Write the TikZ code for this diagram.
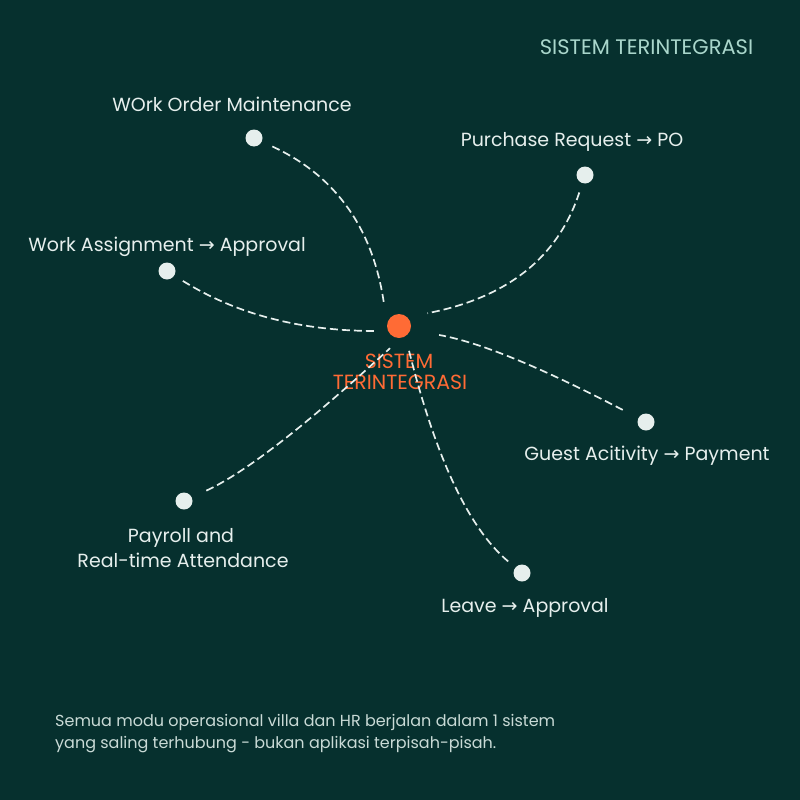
\documentclass[tikz,border=0pt]{standalone}
\usepackage{fontspec}
\setmainfont{Poppins}
\newfontfamily\arrfont{DejaVu Sans}
\newcommand{\rarr}{{\arrfont →}}
\definecolor{bg}{HTML}{06302E}
\definecolor{lbl}{HTML}{E6EFED}
\definecolor{ttl}{HTML}{A9D6CB}
\definecolor{org}{HTML}{FF6B35}
\definecolor{foot}{HTML}{C9DAD6}
\tikzset{
  dotnode/.style={circle,fill=lbl,inner sep=0pt,minimum size=17pt},
  hubnode/.style={circle,fill=org,inner sep=0pt,minimum size=24pt},
  lab/.style={text=lbl,font=\fontsize{19}{22}\selectfont,anchor=base,inner sep=0pt},
  hublab/.style={text=org,font=\fontsize{20.5}{24}\selectfont,anchor=base,inner sep=0pt},
  link/.style={draw=lbl,line width=1.7pt,dash pattern=on 8pt off 4pt},
}
\begin{document}
\begin{tikzpicture}[x=1pt,y=-1pt]
\fill[bg] (0,0) rectangle (800,800);
\useasboundingbox (0,0) rectangle (800,800);

\node[text=ttl,font=\fontsize{21}{24}\selectfont,anchor=base,inner sep=0pt] (title) at (646.5,55) {SISTEM TERINTEGRASI};

\node[hublab] (hl1) at (399,368) {SISTEM};
\node[hublab] (hl2) at (400,389) {TERINTEGRASI};

\node[hubnode] (hub) at (399,326) {};
\node[dotnode] (wo) at (254,138) {};
\node[dotnode] (pr) at (585,175) {};
\node[dotnode] (wa) at (167,271) {};
\node[dotnode] (ga) at (646,422) {};
\node[dotnode] (py) at (184,501) {};
\node[dotnode] (lv) at (522,573) {};

\node[lab] (wol) at (232,111) {WOrk Order Maintenance};
\node[lab] (prl) at (572,146) {Purchase Request \rarr{} PO};
\node[lab] (wal) at (167,251) {Work Assignment \rarr{} Approval};
\node[lab] (gal) at (647,460) {Guest Acitivity \rarr{} Payment};
\node[lab] (pyl1) at (181,542) {Payroll and};
\node[lab] (pyl2) at (183,567) {Real-time Attendance};
\node[lab] (lvl) at (525,612) {Leave \rarr{} Approval};

\draw[link,shorten <=11.5pt,shorten >=22pt] (wo) .. controls (336,175.9) and (372.7,228.5) .. (hub.170);
\draw[link,shorten <=9.7pt,shorten >=20.5pt] (pr) .. controls (558,257.7) and (506.8,297.9) .. (hub.47);
\draw[link,shorten <=10pt,shorten >=13pt] (wa) .. controls (238,315.3) and (303.2,331) .. (hub.204);
\draw[link,shorten <=17.5pt,shorten >=29pt] (ga) .. controls (542.7,368.3) and (481.7,342.7) .. (hub.-18);
\draw[link,shorten <=15.9pt,shorten >=15pt] (py) .. controls (246.2,472.1) and (307.3,424.1) .. (hub.-80);
\draw[link,shorten <=9.3pt,shorten >=11pt] (lv) .. controls (468.4,528.1) and (435.1,456.5) .. (hub.-58);

\node[text=foot,font=\fontsize{16}{20}\selectfont,anchor=base west,inner sep=0pt] (f1) at (55,726) {Semua modu operasional villa dan HR berjalan dalam 1 sistem};
\node[text=foot,font=\fontsize{16}{20}\selectfont,anchor=base west,inner sep=0pt] (f2) at (55,748) {yang saling terhubung - bukan aplikasi terpisah-pisah.};
\end{tikzpicture}
\end{document}
